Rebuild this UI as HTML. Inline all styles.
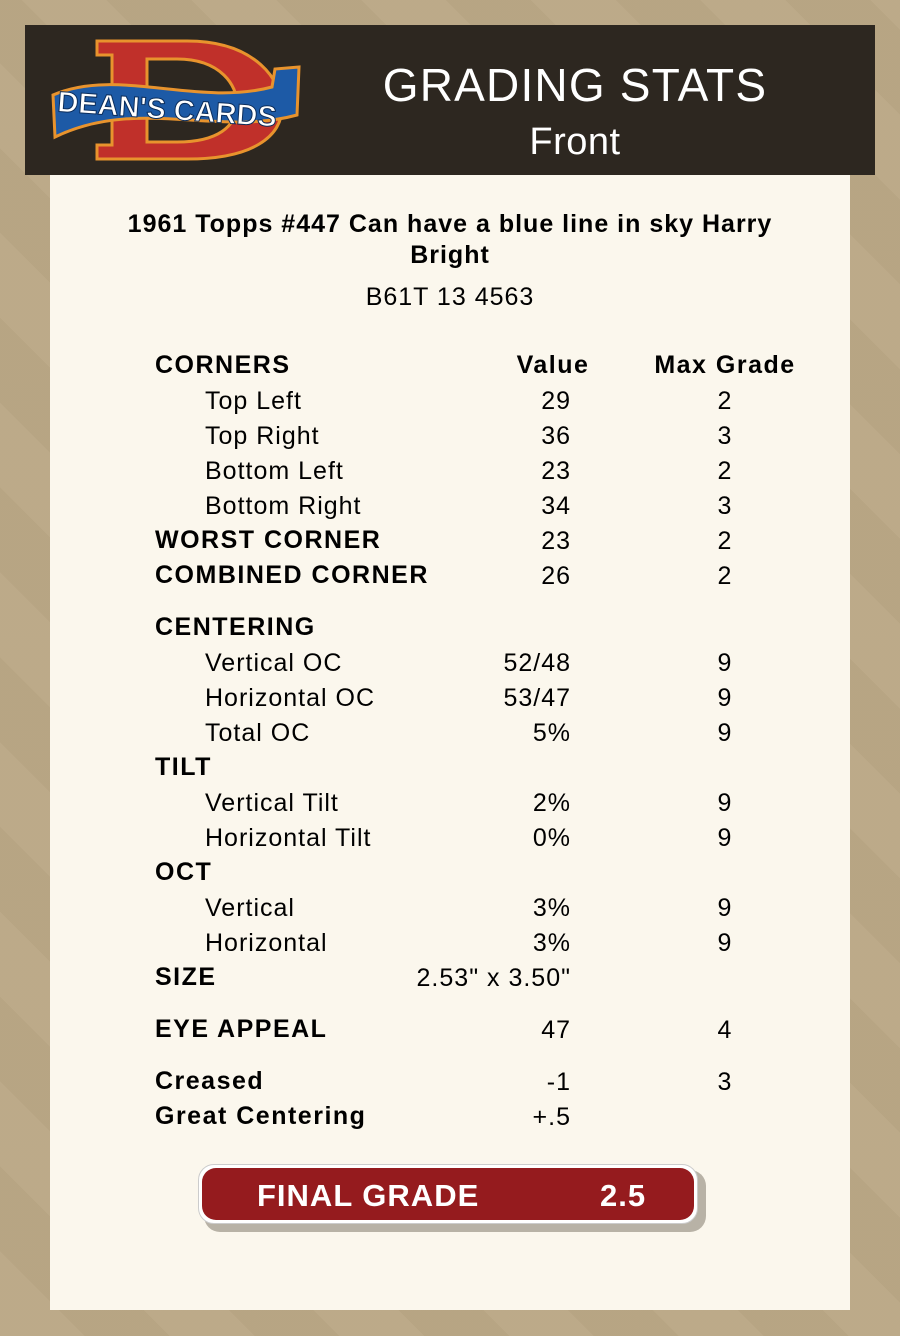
<!DOCTYPE html>
<html><head><meta charset="utf-8"><style>
body{margin:0;width:900px;height:1336px;background:#bba886;position:relative;overflow:hidden;font-family:"Liberation Sans",Arial,sans-serif;color:#000}
.bgp{position:absolute;inset:0;background:repeating-linear-gradient(45deg,rgba(255,255,255,.025) 0 60px,rgba(0,0,0,.02) 60px 120px)}
#hdr{position:absolute;left:25px;top:25px;width:850px;height:150px;background:#2d2720}
#card{position:absolute;left:50px;top:175px;width:800px;height:1135px;background:#fbf7ed}
.t{position:absolute;white-space:nowrap;font-size:25px;line-height:30px;letter-spacing:1px}
.b{font-weight:bold;letter-spacing:1.5px}
.r{text-align:right}
.c{text-align:center}
</style></head><body>
<div class="bgp"></div>
<div id="hdr">
<svg width="270" height="140" style="position:absolute;left:22px;top:12px" viewBox="0 0 270 140">
<path d="M50 4 H140 C210 4 235 45 235 70 C235 100 205 122 140 122 H50 V108 H65 V18 H50Z" fill="#c0302a" stroke="#e8932d" stroke-width="3"/>
<path d="M100 22 H130 C175 22 190 50 190 66 C190 90 170 105 130 105 H100Z" fill="#2d2720" stroke="#e8932d" stroke-width="3"/>
<path d="M6 58 C70 30 150 70 225 50 L228 32 L252 30 L250 78 C170 100 90 60 8 100 Z" fill="#1d5aa6" stroke="#e8932d" stroke-width="3"/>
<text x="120" y="82" text-anchor="middle" font-family="Liberation Sans" font-weight="bold" font-size="29" fill="#fff" stroke="#0b2c5a" stroke-width="1" transform="rotate(4 120 75)">DEAN'S CARDS</text>
</svg>
<div class="t c" style="left:330px;width:440px;top:32px;font-size:46px;line-height:56px;color:#fff;letter-spacing:1.2px">GRADING STATS</div>
<div class="t c" style="left:330px;width:440px;top:94px;font-size:38px;line-height:46px;color:#fff;letter-spacing:0.5px">Front</div>
</div>
<div id="card"></div>
<div class="t b c" style="left:50px;width:800px;top:209px;font-size:25px;line-height:31px;white-space:normal;padding:0 60px;box-sizing:border-box;letter-spacing:1px">1961 Topps #447 Can have a blue line in sky Harry Bright</div>
<div class="t c" style="left:50px;width:800px;top:282px">B61T 13 4563</div>

<div class="t b" style="left:155px;top:350px">CORNERS</div>
<div class="t b c" style="left:493px;width:120px;top:350px">Value</div>
<div class="t b c" style="left:645px;width:160px;top:350px">Max Grade</div>

<div class="t" style="left:205px;top:386px">Top Left</div><div class="t r" style="left:470px;width:101px;top:386px">29</div><div class="t c" style="left:700px;width:50px;top:386px">2</div>
<div class="t" style="left:205px;top:421px">Top Right</div><div class="t r" style="left:470px;width:101px;top:421px">36</div><div class="t c" style="left:700px;width:50px;top:421px">3</div>
<div class="t" style="left:205px;top:456px">Bottom Left</div><div class="t r" style="left:470px;width:101px;top:456px">23</div><div class="t c" style="left:700px;width:50px;top:456px">2</div>
<div class="t" style="left:205px;top:491px">Bottom Right</div><div class="t r" style="left:470px;width:101px;top:491px">34</div><div class="t c" style="left:700px;width:50px;top:491px">3</div>
<div class="t b" style="left:155px;top:525px">WORST CORNER</div><div class="t r" style="left:470px;width:101px;top:526px">23</div><div class="t c" style="left:700px;width:50px;top:526px">2</div>
<div class="t b" style="left:155px;top:560px">COMBINED CORNER</div><div class="t r" style="left:470px;width:101px;top:561px">26</div><div class="t c" style="left:700px;width:50px;top:561px">2</div>

<div class="t b" style="left:155px;top:612px">CENTERING</div>
<div class="t" style="left:205px;top:648px">Vertical OC</div><div class="t r" style="left:440px;width:131px;top:648px">52/48</div><div class="t c" style="left:700px;width:50px;top:648px">9</div>
<div class="t" style="left:205px;top:683px">Horizontal OC</div><div class="t r" style="left:440px;width:131px;top:683px">53/47</div><div class="t c" style="left:700px;width:50px;top:683px">9</div>
<div class="t" style="left:205px;top:718px">Total OC</div><div class="t r" style="left:440px;width:131px;top:718px">5%</div><div class="t c" style="left:700px;width:50px;top:718px">9</div>
<div class="t b" style="left:155px;top:752px">TILT</div>
<div class="t" style="left:205px;top:788px">Vertical Tilt</div><div class="t r" style="left:440px;width:131px;top:788px">2%</div><div class="t c" style="left:700px;width:50px;top:788px">9</div>
<div class="t" style="left:205px;top:823px">Horizontal Tilt</div><div class="t r" style="left:440px;width:131px;top:823px">0%</div><div class="t c" style="left:700px;width:50px;top:823px">9</div>
<div class="t b" style="left:155px;top:857px">OCT</div>
<div class="t" style="left:205px;top:893px">Vertical</div><div class="t r" style="left:440px;width:131px;top:893px">3%</div><div class="t c" style="left:700px;width:50px;top:893px">9</div>
<div class="t" style="left:205px;top:928px">Horizontal</div><div class="t r" style="left:440px;width:131px;top:928px">3%</div><div class="t c" style="left:700px;width:50px;top:928px">9</div>
<div class="t b" style="left:155px;top:962px">SIZE</div><div class="t r" style="left:380px;width:191px;top:963px">2.53" x 3.50"</div>

<div class="t b" style="left:155px;top:1014px">EYE APPEAL</div><div class="t r" style="left:440px;width:131px;top:1015px">47</div><div class="t c" style="left:700px;width:50px;top:1015px">4</div>
<div class="t b" style="left:155px;top:1066px">Creased</div><div class="t r" style="left:440px;width:131px;top:1067px">-1</div><div class="t c" style="left:700px;width:50px;top:1067px">3</div>
<div class="t b" style="left:155px;top:1101px">Great Centering</div><div class="t r" style="left:440px;width:131px;top:1102px">+.5</div>

<div style="position:absolute;left:204px;top:1170px;width:502px;height:62px;border-radius:16px;background:#b8b2a6"></div>
<div style="position:absolute;left:198px;top:1164px;width:500px;height:60px;border-radius:16px;background:#fff;border:1px solid #ccc;box-sizing:border-box"></div>
<div style="position:absolute;left:202px;top:1168px;width:492px;height:52px;border-radius:14px;background:#951b1e"></div>
<div class="t b" style="left:257px;top:1178px;font-size:31px;line-height:36px;color:#fff;letter-spacing:1px">FINAL GRADE</div>
<div class="t b" style="left:600px;top:1178px;font-size:31px;line-height:36px;color:#fff;letter-spacing:1px">2.5</div>
</body></html>
